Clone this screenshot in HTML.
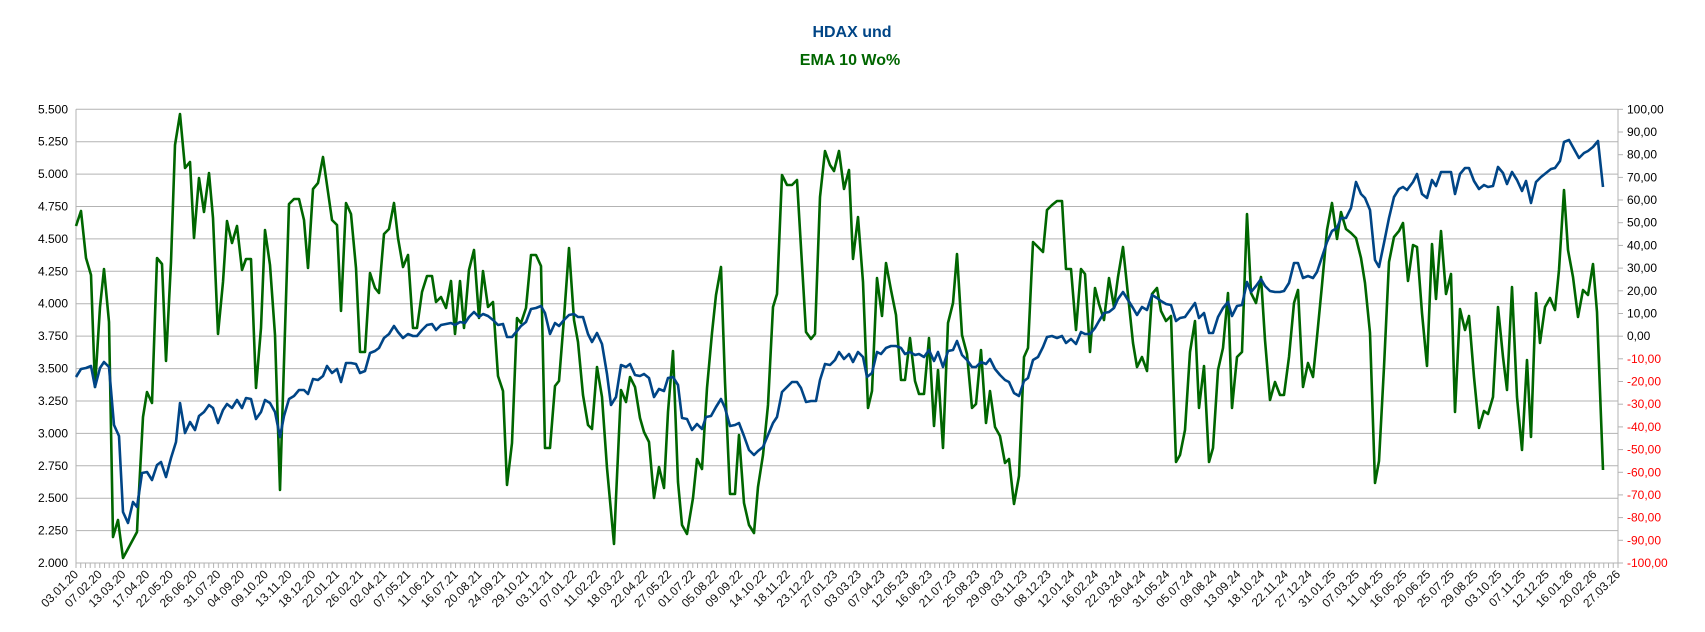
<!DOCTYPE html>
<html><head><meta charset="utf-8"><style>
html,body{margin:0;padding:0;background:#fff;}
svg{display:block;font-family:"Liberation Sans",sans-serif;}
</style></head><body>
<svg width="1705" height="632" viewBox="0 0 1705 632" xmlns="http://www.w3.org/2000/svg">
<defs>
<pattern id="tk" x="75.5" y="0" width="4.7446" height="632" patternUnits="userSpaceOnUse">
<rect x="0" y="0" width="1" height="632" fill="#b3b3b3"/>
</pattern>
</defs>
<rect width="1705" height="632" fill="#fff"/>
<text x="852" y="37" text-anchor="middle" font-size="16" font-weight="bold" fill="#004586">HDAX und</text>
<text x="850" y="65" text-anchor="middle" font-size="16" font-weight="bold" fill="#006600">EMA 10 Wo%</text>
<g stroke="#b3b3b3" stroke-width="1">
<line x1="76" x2="1618" y1="109.3" y2="109.3"/>
<line x1="76" x2="1618" y1="141.7" y2="141.7"/>
<line x1="76" x2="1618" y1="174.1" y2="174.1"/>
<line x1="76" x2="1618" y1="206.5" y2="206.5"/>
<line x1="76" x2="1618" y1="238.9" y2="238.9"/>
<line x1="76" x2="1618" y1="271.3" y2="271.3"/>
<line x1="76" x2="1618" y1="303.7" y2="303.7"/>
<line x1="76" x2="1618" y1="336.1" y2="336.1"/>
<line x1="76" x2="1618" y1="368.6" y2="368.6"/>
<line x1="76" x2="1618" y1="401.0" y2="401.0"/>
<line x1="76" x2="1618" y1="433.4" y2="433.4"/>
<line x1="76" x2="1618" y1="465.8" y2="465.8"/>
<line x1="76" x2="1618" y1="498.2" y2="498.2"/>
<line x1="76" x2="1618" y1="530.6" y2="530.6"/>
<line x1="76" x2="1618" y1="563" y2="563"/>
<line x1="76" x2="76" y1="109.3" y2="563"/>
<line x1="1618" x2="1618" y1="109.3" y2="563"/>
<line x1="1618" x2="1623" y1="109.3" y2="109.3"/>
<line x1="1618" x2="1623" y1="132.0" y2="132.0"/>
<line x1="1618" x2="1623" y1="154.7" y2="154.7"/>
<line x1="1618" x2="1623" y1="177.4" y2="177.4"/>
<line x1="1618" x2="1623" y1="200.0" y2="200.0"/>
<line x1="1618" x2="1623" y1="222.7" y2="222.7"/>
<line x1="1618" x2="1623" y1="245.4" y2="245.4"/>
<line x1="1618" x2="1623" y1="268.1" y2="268.1"/>
<line x1="1618" x2="1623" y1="290.8" y2="290.8"/>
<line x1="1618" x2="1623" y1="313.5" y2="313.5"/>
<line x1="1618" x2="1623" y1="336.2" y2="336.2"/>
<line x1="1618" x2="1623" y1="358.8" y2="358.8"/>
<line x1="1618" x2="1623" y1="381.5" y2="381.5"/>
<line x1="1618" x2="1623" y1="404.2" y2="404.2"/>
<line x1="1618" x2="1623" y1="426.9" y2="426.9"/>
<line x1="1618" x2="1623" y1="449.6" y2="449.6"/>
<line x1="1618" x2="1623" y1="472.3" y2="472.3"/>
<line x1="1618" x2="1623" y1="494.9" y2="494.9"/>
<line x1="1618" x2="1623" y1="517.6" y2="517.6"/>
<line x1="1618" x2="1623" y1="540.3" y2="540.3"/>
<line x1="1618" x2="1623" y1="563" y2="563"/>
</g>
<rect x="75" y="563" width="545" height="5" fill="url(#tk)"/>
<rect x="620" y="563" width="1000" height="5" fill="url(#tk)"/>
<g font-size="12" fill="#000" text-anchor="end">
<text x="68" y="113.3">5.500</text>
<text x="68" y="145.7">5.250</text>
<text x="68" y="178.1">5.000</text>
<text x="68" y="210.5">4.750</text>
<text x="68" y="242.9">4.500</text>
<text x="68" y="275.3">4.250</text>
<text x="68" y="307.7">4.000</text>
<text x="68" y="340.1">3.750</text>
<text x="68" y="372.6">3.500</text>
<text x="68" y="405.0">3.250</text>
<text x="68" y="437.4">3.000</text>
<text x="68" y="469.8">2.750</text>
<text x="68" y="502.2">2.500</text>
<text x="68" y="534.6">2.250</text>
<text x="68" y="567">2.000</text>
</g>
<g font-size="12" fill="#000">
<text x="1627" y="113.3">100,00</text>
<text x="1627" y="136.0">90,00</text>
<text x="1627" y="158.7">80,00</text>
<text x="1627" y="181.4">70,00</text>
<text x="1627" y="204.0">60,00</text>
<text x="1627" y="226.7">50,00</text>
<text x="1627" y="249.4">40,00</text>
<text x="1627" y="272.1">30,00</text>
<text x="1627" y="294.8">20,00</text>
<text x="1627" y="317.5">10,00</text>
<text x="1627" y="340.2">0,00</text>
</g>
<g font-size="12" fill="#ff0000">
<text x="1627" y="362.8">-10,00</text>
<text x="1627" y="385.5">-20,00</text>
<text x="1627" y="408.2">-30,00</text>
<text x="1627" y="430.9">-40,00</text>
<text x="1627" y="453.6">-50,00</text>
<text x="1627" y="476.3">-60,00</text>
<text x="1627" y="498.9">-70,00</text>
<text x="1627" y="521.6">-80,00</text>
<text x="1627" y="544.3">-90,00</text>
<text x="1627" y="567">-100,00</text>
</g>
<g font-size="12" fill="#111" text-anchor="end">
<text transform="translate(79.0,575) rotate(-45)">03.01.20</text>
<text transform="translate(102.7,575) rotate(-45)">07.02.20</text>
<text transform="translate(126.4,575) rotate(-45)">13.03.20</text>
<text transform="translate(150.2,575) rotate(-45)">17.04.20</text>
<text transform="translate(173.9,575) rotate(-45)">22.05.20</text>
<text transform="translate(197.6,575) rotate(-45)">26.06.20</text>
<text transform="translate(221.3,575) rotate(-45)">31.07.20</text>
<text transform="translate(245.1,575) rotate(-45)">04.09.20</text>
<text transform="translate(268.8,575) rotate(-45)">09.10.20</text>
<text transform="translate(292.5,575) rotate(-45)">13.11.20</text>
<text transform="translate(316.2,575) rotate(-45)">18.12.20</text>
<text transform="translate(340.0,575) rotate(-45)">22.01.21</text>
<text transform="translate(363.7,575) rotate(-45)">26.02.21</text>
<text transform="translate(387.4,575) rotate(-45)">02.04.21</text>
<text transform="translate(411.1,575) rotate(-45)">07.05.21</text>
<text transform="translate(434.8,575) rotate(-45)">11.06.21</text>
<text transform="translate(458.6,575) rotate(-45)">16.07.21</text>
<text transform="translate(482.3,575) rotate(-45)">20.08.21</text>
<text transform="translate(506.0,575) rotate(-45)">24.09.21</text>
<text transform="translate(529.7,575) rotate(-45)">29.10.21</text>
<text transform="translate(553.5,575) rotate(-45)">03.12.21</text>
<text transform="translate(577.2,575) rotate(-45)">07.01.22</text>
<text transform="translate(600.9,575) rotate(-45)">11.02.22</text>
<text transform="translate(624.6,575) rotate(-45)">18.03.22</text>
<text transform="translate(648.4,575) rotate(-45)">22.04.22</text>
<text transform="translate(672.1,575) rotate(-45)">27.05.22</text>
<text transform="translate(695.8,575) rotate(-45)">01.07.22</text>
<text transform="translate(719.5,575) rotate(-45)">05.08.22</text>
<text transform="translate(743.2,575) rotate(-45)">09.09.22</text>
<text transform="translate(767.0,575) rotate(-45)">14.10.22</text>
<text transform="translate(790.7,575) rotate(-45)">18.11.22</text>
<text transform="translate(814.4,575) rotate(-45)">23.12.22</text>
<text transform="translate(838.1,575) rotate(-45)">27.01.23</text>
<text transform="translate(861.9,575) rotate(-45)">03.03.23</text>
<text transform="translate(885.6,575) rotate(-45)">07.04.23</text>
<text transform="translate(909.3,575) rotate(-45)">12.05.23</text>
<text transform="translate(933.0,575) rotate(-45)">16.06.23</text>
<text transform="translate(956.8,575) rotate(-45)">21.07.23</text>
<text transform="translate(980.5,575) rotate(-45)">25.08.23</text>
<text transform="translate(1004.2,575) rotate(-45)">29.09.23</text>
<text transform="translate(1027.9,575) rotate(-45)">03.11.23</text>
<text transform="translate(1051.6,575) rotate(-45)">08.12.23</text>
<text transform="translate(1075.4,575) rotate(-45)">12.01.24</text>
<text transform="translate(1099.1,575) rotate(-45)">16.02.24</text>
<text transform="translate(1122.8,575) rotate(-45)">22.03.24</text>
<text transform="translate(1146.5,575) rotate(-45)">26.04.24</text>
<text transform="translate(1170.3,575) rotate(-45)">31.05.24</text>
<text transform="translate(1194.0,575) rotate(-45)">05.07.24</text>
<text transform="translate(1217.7,575) rotate(-45)">09.08.24</text>
<text transform="translate(1241.4,575) rotate(-45)">13.09.24</text>
<text transform="translate(1265.2,575) rotate(-45)">18.10.24</text>
<text transform="translate(1288.9,575) rotate(-45)">22.11.24</text>
<text transform="translate(1312.6,575) rotate(-45)">27.12.24</text>
<text transform="translate(1336.3,575) rotate(-45)">31.01.25</text>
<text transform="translate(1360.0,575) rotate(-45)">07.03.25</text>
<text transform="translate(1383.8,575) rotate(-45)">11.04.25</text>
<text transform="translate(1407.5,575) rotate(-45)">16.05.25</text>
<text transform="translate(1431.2,575) rotate(-45)">20.06.25</text>
<text transform="translate(1454.9,575) rotate(-45)">25.07.25</text>
<text transform="translate(1478.7,575) rotate(-45)">29.08.25</text>
<text transform="translate(1502.4,575) rotate(-45)">03.10.25</text>
<text transform="translate(1526.1,575) rotate(-45)">07.11.25</text>
<text transform="translate(1549.8,575) rotate(-45)">12.12.25</text>
<text transform="translate(1573.6,575) rotate(-45)">16.01.26</text>
<text transform="translate(1597.3,575) rotate(-45)">20.02.26</text>
<text transform="translate(1621.0,575) rotate(-45)">27.03.26</text>
</g>
<polyline fill="none" stroke="#006600" stroke-width="2.6" stroke-linejoin="round" points="76,226 81,211 86,258 91,275 95,387 100,307 104,269 109,322 113,537 118,520 123,558 137,532 138,510 143,417 147,392 152,403 157,258 162,264 166,361 171,262 175,145 180,114 185,168 190,162 194,238 199,178 204,212 209,173 213,218 218,334 223,282 227,221 232,243 237,226 242,270 246,259 251,259 256,388 261,328 265,230 270,265 275,335 280,490 284,362 289,204 294,199 299,199 304,220 308,268 313,189 318,183 323,157 327,185 332,220 337,225 341,311 346,203 351,214 356,268 360,352 365,352 370,273 375,288 379,293 384,234 389,229 394,203 398,238 403,267 408,255 413,328 417,328 422,292 427,276 432,276 436,302 441,297 446,308 451,281 455,334 460,281 464,328 469,270 474,250 479,318 483,271 488,307 493,302 498,376 503,391 507,485 512,443 517,318 521,323 526,308 531,255 536,255 541,266 545,448 550,448 555,386 559,381 564,318 569,248 574,320 578,342 583,395 588,425 592,429 597,367 602,397 607,468 614,544 616,498 621,390 626,402 630,377 635,387 640,418 644,432 649,442 654,498 659,467 664,488 668,412 673,351 678,482 682,525 687,534 693,498 697,459 702,469 707,388 712,333 716,295 721,267 725,382 730,494 735,494 739,435 744,503 749,525 754,533 758,487 763,455 768,405 773,307 777,294 782,175 787,185 792,185 797,180 806,332 811,339 815,334 820,197 825,151 830,165 834,171 839,151 844,189 849,170 853,259 858,217 863,282 868,408 872,391 877,278 882,316 886,263 891,290 896,315 901,380 905,380 910,338 915,381 919,394 924,394 929,338 934,426 938,370 943,448 948,323 953,303 957,254 962,335 967,354 972,408 976,404 981,350 986,423 990,391 995,427 1000,436 1005,463 1009,459 1014,504 1019,476 1024,357 1028,348 1033,242 1038,247 1043,252 1047,210 1052,205 1057,201 1062,201 1066,269 1071,269 1076,330 1081,269 1085,274 1090,352 1095,288 1099,304 1104,320 1109,278 1114,307 1118,277 1123,247 1128,295 1133,343 1137,367 1142,357 1147,371 1152,294 1157,288 1161,311 1166,321 1171,316 1176,462 1180,455 1185,430 1190,352 1195,321 1199,408 1204,366 1209,462 1213,448 1218,370 1223,348 1228,293 1232,408 1237,357 1242,352 1247,214 1251,293 1256,303 1261,277 1265,340 1270,400 1275,382 1280,395 1284,395 1289,357 1294,303 1298,290 1303,387 1308,363 1313,377 1317,337 1322,285 1327,230 1332,203 1337,239 1341,212 1346,229 1351,233 1356,238 1361,258 1365,283 1370,333 1375,483 1379,461 1384,367 1389,262 1394,237 1399,231 1403,223 1408,281 1413,245 1417,247 1422,313 1427,366 1432,244 1436,299 1441,231 1446,294 1451,274 1455,412 1460,309 1465,330 1469,316 1474,377 1479,428 1484,411 1488,414 1493,397 1498,307 1503,357 1507,390 1512,287 1517,397 1522,450 1527,360 1531,437 1536,293 1540,343 1545,307 1550,298 1555,310 1559,270 1564,190 1568,250 1573,277 1578,317 1583,290 1588,295 1593,264 1597,312 1603,470"/>
<polyline fill="none" stroke="#004586" stroke-width="2.6" stroke-linejoin="round" points="76,377 81,369 86,368 91,366 95,387 100,368 104,362 109,367 114,425 119,436 123,512 128,523 133,502 137,507 142,473 147,472 152,480 157,465 161,462 166,477 171,458 176,442 180,403 185,433 190,422 195,430 199,416 204,412 209,405 213,408 218,423 223,410 227,404 232,408 237,400 242,408 246,398 251,399 256,419 261,412 265,400 270,403 275,412 280,437 284,416 289,399 294,396 299,390 304,390 308,394 313,379 318,380 323,376 327,366 332,373 337,369 341,382 346,363 351,363 356,364 360,373 365,371 370,353 375,351 379,348 384,338 389,334 394,326 398,332 403,338 408,334 413,336 417,336 422,330 427,325 432,324 436,330 441,325 446,324 451,323 455,325 460,322 465,323 469,317 474,312 479,317 483,314 488,316 493,320 498,325 503,324 507,337 512,337 517,331 521,326 526,322 531,309 536,308 541,306 545,313 550,334 555,323 559,326 564,320 569,315 574,314 578,317 583,317 588,334 592,342 597,333 602,344 607,374 611,405 616,397 621,365 626,367 630,364 635,375 640,376 644,374 649,378 654,397 659,389 664,391 668,378 673,377 678,385 682,418 687,419 692,430 697,424 702,429 706,417 711,416 716,407 721,399 725,408 730,426 735,425 739,423 744,436 749,450 754,455 758,451 763,447 768,435 773,423 777,417 782,392 787,387 792,382 797,382 801,388 806,402 811,401 816,401 820,380 825,364 830,365 835,360 839,352 844,359 849,354 853,362 858,352 863,357 867,377 872,373 877,352 881,354 886,348 891,346 896,346 901,348 905,354 910,352 915,355 919,354 924,357 929,350 934,361 938,352 943,367 948,351 953,350 957,341 962,355 967,360 972,367 976,367 981,362 986,364 990,359 995,369 1000,375 1005,380 1009,382 1014,393 1019,396 1024,381 1028,378 1033,360 1038,357 1043,347 1047,337 1052,336 1057,338 1062,336 1066,343 1071,339 1076,344 1081,332 1085,334 1090,334 1095,328 1099,321 1104,313 1109,312 1114,308 1118,299 1123,292 1128,300 1133,308 1137,315 1142,307 1147,310 1152,295 1157,298 1161,301 1166,304 1171,305 1176,321 1180,318 1185,317 1190,310 1195,303 1199,318 1204,313 1209,333 1213,333 1218,317 1223,308 1228,302 1232,316 1237,306 1242,305 1247,282 1251,292 1256,286 1261,279 1265,286 1270,291 1275,292 1280,292 1284,291 1289,283 1294,263 1298,263 1303,278 1308,276 1313,278 1317,272 1322,257 1327,242 1332,231 1337,228 1341,218 1346,218 1351,208 1356,182 1361,194 1365,198 1370,210 1375,260 1379,267 1384,243 1389,218 1394,197 1399,189 1403,187 1407,190 1413,182 1417,174 1422,194 1427,198 1432,180 1436,186 1441,172 1451,172 1455,194 1460,174 1465,168 1469,168 1474,181 1479,189 1484,185 1488,187 1493,186 1498,167 1503,173 1507,184 1512,172 1517,180 1522,191 1526,181 1531,203 1536,182 1541,177 1546,173 1551,169 1555,168 1560,161 1564,142 1569,140 1574,149 1579,158 1584,153 1588,151 1593,147 1598,141 1603,187"/>
</svg>
</body></html>
